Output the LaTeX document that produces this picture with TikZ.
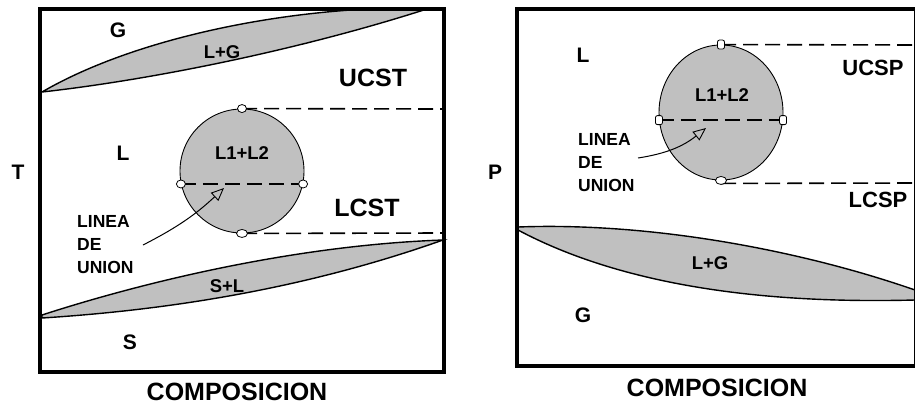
\documentclass[tikz,border=0pt]{standalone}
\usepackage{fontspec}
\setmainfont{Liberation Sans}
\usetikzlibrary{arrows.meta, shapes.geometric}

\definecolor{phasegray}{RGB}{192,192,192}

\tikzset{
  boxframe/.style={line width=4.5pt},
  twophase/.style={fill=phasegray, draw=black, line width=1.4pt},
  mixzone/.style={draw=black, fill=phasegray, line width=0.9pt, inner sep=0pt},
  tieline/.style={line width=1.6pt, dash pattern=on 15pt off 7pt},
  tiept/.style={ellipse, draw=black, fill=white, line width=0.8pt, inner sep=0pt, minimum width=9pt, minimum height=8pt},
  tiesq/.style={rectangle, rounded corners=2pt, draw=black, fill=white, line width=0.8pt, inner sep=0pt, minimum width=7pt, minimum height=9pt},
  pointer/.style={-{Triangle[open, length=13pt, width=11pt, line width=0.9pt]}, line width=1pt},
  region/.style={font=\bfseries\fontsize{21}{24}\selectfont},
  critical/.style={font=\bfseries\fontsize{25}{28}\selectfont},
  inside/.style={font=\bfseries\fontsize{18.5}{22}\selectfont},
  tienote/.style={font=\bfseries\fontsize{17.5}{23}\selectfont, align=left, anchor=west, inner sep=0pt},
  axislbl/.style={font=\bfseries\fontsize{25}{28}\selectfont}
}

\begin{document}
\begin{tikzpicture}[x=1pt, y=-1pt]
    \useasboundingbox (0,0) rectangle (915,405);

    % ---------------- Left panel: T vs composition ----------------
    % L+G two-phase lens (top)
    \draw[twophase] (42,92) .. controls (140,35) and (300,5) .. (430,8)
        .. controls (300,50) and (150,80) .. (42,92) -- cycle;
    \node[inside] (lgL) at (222,52) {L+G};

    % S+L two-phase lens (bottom)
    \draw[twophase] (42,315) .. controls (150,280) and (300,245) .. (443,240)
        .. controls (330,280) and (200,308) .. (42,318) -- cycle;
    \node[inside] (slL) at (227,286) {S+L};

    % Miscibility gap L1+L2
    \node[mixzone, circle, minimum size=124pt] (mixL) at (242,171) {};
    \node[inside] (mixtxtL) at (242,153) {L1+L2};

    % critical solution temperatures
    \coordinate (ucstEnd) at (442,109);
    \coordinate (lcstEnd) at (442,233);
    \draw[tieline] (mixL.north) -- (ucstEnd);
    \draw[tieline] (mixL.south) -- (lcstEnd);
    \draw[tieline] (mixL.192) -- (mixL.-12);
    \node[tiept] (ptTopL) at (mixL.north) {};
    \node[tiept, minimum width=11pt] (ptBotL) at (mixL.south) {};
    \node[tiept] (ptLeftL) at (mixL.192) {};
    \node[tiept] (ptRightL) at (mixL.-12) {};

    % tie line pointer
    \node[tienote] (noteL) at (77,245) {LINEA\\DE\\UNION};
    \coordinate (tailL) at (143,245);
    \coordinate (tipL) at (224,188);
    \draw[pointer] (tailL) to[bend right=8] (tipL);

    % region labels
    \node[region] (gL) at (118,30) {G};
    \node[region] (lL) at (123,153) {L};
    \node[region] (sL) at (130,342) {S};
    \node[critical] (ucst) at (373,78) {UCST};
    \node[critical] (lcst) at (367,208) {LCST};
    \node[region] (tAxis) at (18,172) {T};
    \node[axislbl] (compL) at (237,392) {COMPOSICION};

    \draw[boxframe] (40,9) rectangle (444,372);

    % ---------------- Right panel: P vs composition ----------------
    % L+G two-phase lens
    \draw[twophase] (518,227) .. controls (650,222) and (800,250) .. (915,290)
        -- (915,300) .. controls (800,303) and (640,295) .. (518,230) -- cycle;
    \node[inside] (lgR) at (710,263) {L+G};

    % Miscibility gap L1+L2
    \node[mixzone, ellipse, minimum width=124pt, minimum height=135pt] (mixR) at (721,112.5) {};
    \node[inside] (mixtxtR) at (722,95) {L1+L2};

    % critical solution pressures
    \coordinate (ucspEnd) at (915,45);
    \coordinate (lcspEnd) at (915,183);
    \draw[tieline] (mixR.north) -- (ucspEnd);
    \draw[tieline] (mixR.south) ++(0,3) coordinate (lcspStart) -- (lcspEnd);
    \draw[tieline] (mixR.187) -- (mixR.-7);
    \node[tiesq] (ptTopR) at (mixR.north) {};
    \node[tiept, minimum width=11pt] (ptBotR) at (mixR.south) {};
    \node[tiesq] (ptLeftR) at (mixR.187) {};
    \node[tiesq] (ptRightR) at (mixR.-7) {};

    % tie line pointer
    \node[tienote] (noteR) at (578,163) {LINEA\\DE\\UNION};
    \coordinate (tailR) at (638,158);
    \coordinate (tipR) at (706,128);
    \draw[pointer] (tailR) to[bend right=15] (tipR);

    % region labels
    \node[region] (lR) at (583,55) {L};
    \node[region] (gR) at (583,315) {G};
    \node[font=\bfseries\fontsize{22}{26}\selectfont] (ucsp) at (873,68) {UCSP};
    \node[font=\bfseries\fontsize{22}{26}\selectfont] (lcsp) at (878,200) {LCSP};
    \node[region] (pAxis) at (495,172) {P};
    \node[axislbl] (compR) at (717,388) {COMPOSICION};

    \draw[boxframe] (517,9) rectangle (916,366);
\end{tikzpicture}
\end{document}
